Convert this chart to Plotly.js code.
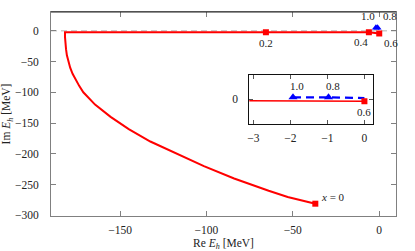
<!DOCTYPE html>
<html>
<head>
<meta charset="utf-8">
<script src="https://cdn.plot.ly/plotly-3.0.1.min.js"></script>
<style>html,body{margin:0;padding:0;background:#fff;}#chart{width:415px;height:251px;}</style>
</head>
<body>
<div id="chart"></div>
<script>
// Red branch: from x = 0 up along the curve, then along Im ~ 0 to x = 0.6
const redRe = [-37, -53, -64, -84, -101.5, -117.5, -132.5, -145, -155.5, -164.5, -171.3, -173.6, -175.6, -177.5, -178.9, -180, -180.8, -181.3, -181.7, -181.9, -181.9, -120, -65.6, -30, -6, 0];
const redIm = [-281, -270, -260, -240, -220, -200, -180, -160, -140, -120, -100, -90, -80, -70, -60, -50, -40, -30, -20, -10, -2.5, -2.5, -2.5, -2.5, -2.5, -4.5];
// Labelled red points
const redLabels = ['<i>x</i> = 0', '0.2', '0.4', '0.6'];
const redPtRe = [-37, -65.6, -6, 0];
const redPtIm = [-281, -2.5, -2.5, -4.5];
// Blue branch
const blueLabels = ['1.0', '0.8', '0.6'];
const blueRe = [-1.93, -0.97, 0.0];
const blueIm = [5, 5, 3];
// Tick values
const xTicks = [-150, -100, -50, 0];
const yTicks = [0, -50, -100, -150, -200, -250, -300];
const insetXTicks = [-3, -2, -1, 0];

const RED = '#ff0000', BLUE = '#0000ff';
const FONT = 'Liberation Serif, DejaVu Serif, serif';
const LABEL_FONT = {family: FONT, size: 11, color: '#222'};

const traces = [
  // main
  {x: redRe, y: redIm, xaxis: 'x', yaxis: 'y', mode: 'lines', line: {color: RED, width: 2}, hoverinfo: 'skip'},
  {x: blueRe, y: blueIm, xaxis: 'x', yaxis: 'y', mode: 'lines', line: {color: BLUE, width: 2, dash: '8px,5px'}, hoverinfo: 'skip'},
  {x: blueRe.slice(0, 2), y: blueIm.slice(0, 2), xaxis: 'x', yaxis: 'y', mode: 'markers',
   marker: {symbol: 'triangle-up', size: 7, color: BLUE}, cliponaxis: false, hoverinfo: 'skip'},
  {x: redPtRe, y: redPtIm, xaxis: 'x', yaxis: 'y', mode: 'markers',
   marker: {symbol: 'square', size: 6, color: RED}, cliponaxis: false, hoverinfo: 'skip'},
  // inset
  {x: redRe, y: redIm, xaxis: 'x2', yaxis: 'y2', mode: 'lines', line: {color: RED, width: 1.6}, hoverinfo: 'skip'},
  {x: blueRe, y: blueIm, xaxis: 'x2', yaxis: 'y2', mode: 'lines', line: {color: BLUE, width: 2.2, dash: '8px,5px'}, hoverinfo: 'skip'},
  {x: blueRe.slice(0, 2), y: blueIm.slice(0, 2), xaxis: 'x2', yaxis: 'y2', mode: 'markers',
   marker: {symbol: 'triangle-up', size: 8, color: BLUE}, hoverinfo: 'skip'},
  {x: redPtRe, y: redPtIm, xaxis: 'x2', yaxis: 'y2', mode: 'markers',
   marker: {symbol: 'square', size: 6, color: RED}, hoverinfo: 'skip'}
];

// label offsets in pixels (style only)
const redOffMain = [[18, 7], [0, -10.5], [-7.5, -10], [11.5, -10]];
const blueOffMain = [[-7.5, 12], [12, 12]];
const annotations = [];
redLabels.forEach((t, i) => annotations.push({xref: 'x', yref: 'y', x: redPtRe[i], y: redPtIm[i], text: t,
  showarrow: false, xshift: redOffMain[i][0], yshift: redOffMain[i][1], font: LABEL_FONT}));
[0, 1].forEach(i => annotations.push({xref: 'x', yref: 'y', x: blueRe[i], y: blueIm[i], text: blueLabels[i],
  showarrow: false, xshift: blueOffMain[i][0], yshift: blueOffMain[i][1], font: LABEL_FONT}));
// inset labels (only points inside the inset range)
[0, 1].forEach(i => annotations.push({xref: 'x2', yref: 'y2', x: blueRe[i], y: blueIm[i], text: blueLabels[i],
  showarrow: false, xshift: 4, yshift: 11, font: LABEL_FONT}));
annotations.push({xref: 'x2', yref: 'y2', x: redPtRe[3], y: redPtIm[3], text: redLabels[3],
  showarrow: false, xshift: 0, yshift: -11, font: LABEL_FONT});

const axisCommon = {
  showgrid: false, zeroline: false, showline: true, linecolor: '#808080', linewidth: 1,
  ticks: 'inside', ticklen: 5, tickcolor: '#808080', mirror: 'ticks',
  tickfont: {family: FONT, size: 11.5, color: '#222'}
};

const layout = {
  width: 415, height: 251,
  margin: {l: 51, r: 19, t: 12, b: 35},
  paper_bgcolor: '#fff', plot_bgcolor: '#fff',
  showlegend: false,
  annotations: annotations,
  xaxis: Object.assign({}, axisCommon, {
    domain: [0, 1], range: [-190, 9.7], tickvals: xTicks, ticklabelstandoff: 3,
    title: {text: 'Re <i>E</i><sub><i>h</i></sub> [MeV]', font: {family: FONT, size: 11.5, color: '#222'}, standoff: 5}
  }),
  yaxis: Object.assign({}, axisCommon, {
    domain: [0, 1], range: [-301, 30.4], tickvals: yTicks, ticklabelstandoff: 9,
    title: {text: 'Im <i>E</i><sub><i>h</i></sub> [MeV]', font: {family: FONT, size: 11.5, color: '#222'}, standoff: 1}
  }),
  xaxis2: Object.assign({}, axisCommon, {
    domain: [0.5748, 0.9342], anchor: 'y2', range: [-3.11, 0.24], tickvals: insetXTicks,
    linecolor: '#111', tickcolor: '#555', ticklen: 4, ticklabelstandoff: 3
  }),
  yaxis2: Object.assign({}, axisCommon, {
    domain: [0.451, 0.6926], anchor: 'x2', range: [-60, 60], tickvals: [0],
    linecolor: '#111', tickcolor: '#555', ticklen: 4, ticklabelstandoff: 8
  }),
  shapes: [
    {type: 'line', xref: 'x domain', yref: 'y', x0: 0, x1: 1, y0: 0, y1: 0, layer: 'below',
     line: {color: '#cccccc', width: 1.5, dash: '6px,4px'}},
    {type: 'line', xref: 'x2 domain', yref: 'y2', x0: 0, x1: 1, y0: 0, y1: 0, layer: 'below',
     line: {color: '#cccccc', width: 1.5, dash: '6px,4px'}},
    {type: 'line', xref: 'x domain', yref: 'y domain', x0: 0, x1: 1, y0: 1, y1: 1,
     line: {color: '#222', width: 1}}
  ]
};

Plotly.newPlot('chart', traces, layout, {staticPlot: true, displayModeBar: false});
</script>
</body>
</html>
